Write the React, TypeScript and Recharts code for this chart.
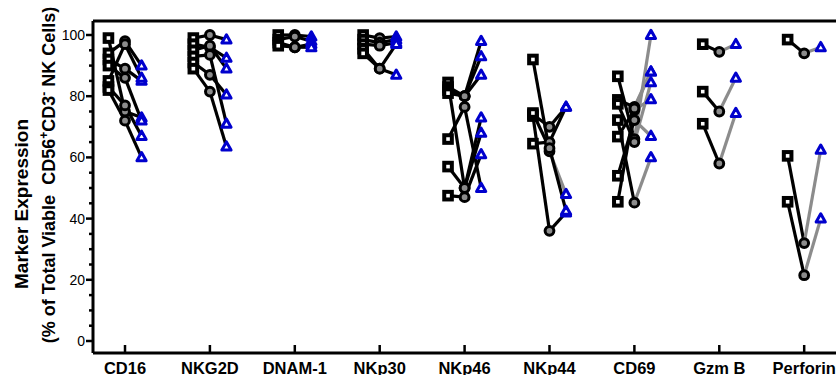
import { ComposedChart, Line, Scatter, XAxis, YAxis, ReferenceLine } from "recharts";

const markers = ["CD16", "NKG2D", "DNAM-1", "NKp30", "NKp46", "NKp44", "CD69", "Gzm B", "Perforin"];

// one row per marker, one value per donor (square -> circle -> triangle)
const squareValues = [
  [99, 94, 92, 90, 85, 83, 82],
  [99, 97, 95, 93, 91, 89],
  [100, 98.5, 97.5, 96.5],
  [100, 98.5, 97, 95.5, 94],
  [84.5, 83, 82, 81, 66, 57, 47.5],
  [92, 74, 73.5, 64.5, 74.5],
  [86.5, 78.8, 77.5, 72.2, 66.8, 54, 45.5],
  [97, 81.5, 71],
  [98.5, 60.5, 45.5],
];
const circleValues = [
  [75, 98, 89, 86, 97, 77, 72],
  [100, 96, 96.5, 93.5, 87, 81.5],
  [100, 99.5, 96, 96],
  [99, 97.5, 96.5, 89, 89],
  [50, 80, 80, 80, 76.5, 50, 47],
  [62, 70, 36, 65, 63],
  [66, 76.5, 65, 45.2, 75.5, 72.2, 76],
  [94.5, 75, 58],
  [94, 32, 21.5],
];
const triangleValues = [
  [73, 90, 85, 72, 86, 67, 60],
  [98.5, 92.5, 89, 71, 80.5, 63.5],
  [99.5, 98, 97, 96],
  [99.5, 98.5, 97.5, 97, 87],
  [73, 98, 93, 87, 50, 68, 61],
  [48, 76.5, 42, 76.5, 42.5],
  [100, 88, 84.5, 60, 79, 67, 88],
  [97, 86, 74.5],
  [96, 62.5, 40],
];
// circle -> triangle link drawn in grey
const greyLinks = [
  [false, false, false, false, false, false, false],
  [false, false, false, false, false, false],
  [false, false, false, false],
  [false, false, false, false, false],
  [false, false, false, false, false, false, false],
  [true, false, false, false, false],
  [true, true, true, true, true, true, true],
  [true, true, true],
  [true, true, true],
];
const yTicks = [0, 5, 10, 15, 20, 25, 30, 35, 40, 45, 50, 55, 60, 65, 70, 75, 80, 85, 90, 95, 100];

const OFF = 0.195;
const X_MIN = -0.377;
const X_MAX = 8.893;
const Y_MIN = -3.92;
const Y_MAX = 104.575;
const FONT = "'Liberation Sans', Arial, sans-serif";

const squares: { x: number; y: number }[] = [];
const circles: { x: number; y: number }[] = [];
const triangles: { x: number; y: number }[] = [];
const segments: { key: string; data: { x: number; y: number }[]; color: string }[] = [];

markers.forEach((m, i) => {
  squareValues[i].forEach((s, j) => {
    const c = circleValues[i][j];
    const t = triangleValues[i][j];
    squares.push({ x: i - OFF, y: s });
    circles.push({ x: i, y: c });
    triangles.push({ x: i + OFF, y: t });
    segments.push({ key: `a${i}-${j}`, data: [{ x: i - OFF, y: s }, { x: i, y: c }], color: "#000" });
    segments.push({
      key: `b${i}-${j}`,
      data: [{ x: i, y: c }, { x: i + OFF, y: t }],
      color: greyLinks[i][j] ? "#8c8c8c" : "#000",
    });
  });
});

const SquareDot = (p: any) => (
  <rect x={p.cx - 3.8} y={p.cy - 3.8} width={7.6} height={7.6} fill="#fff" stroke="#000" strokeWidth={4} />
);
const CircleDot = (p: any) => (
  <circle cx={p.cx} cy={p.cy} r={4.4} fill="#8c8c8c" stroke="#000" strokeWidth={3} />
);
const TriangleDot = (p: any) => (
  <path
    d={`M${p.cx},${p.cy - 4.8} L${p.cx + 4.6},${p.cy + 3.4} L${p.cx - 4.6},${p.cy + 3.4} Z`}
    fill="#fff"
    stroke="#0000cd"
    strokeWidth={3}
    strokeLinejoin="round"
  />
);

const XTick = (p: any) => (
  <g>
    <line x1={p.x} x2={p.x} y1={p.y} y2={p.y - 8} stroke="#000" strokeWidth={2.5} />
    <text x={p.x} y={p.y + 20.5} textAnchor="middle" fontFamily={FONT} fontWeight="bold" fontSize={16.5} fill="#000">
      {markers[p.payload.value]}
    </text>
  </g>
);

const YTick = (p: any) => {
  const v = p.payload.value;
  const major = v % 20 === 0;
  return (
    <g>
      <line x1={p.x} x2={p.x - (major ? 7 : 4)} y1={p.y} y2={p.y} stroke="#000" strokeWidth={2.5} />
      {major && (
        <text x={p.x - 8} y={p.y} dy="0.36em" textAnchor="end" fontFamily={FONT} fontSize={14} fill="#000">
          {v}
        </text>
      )}
    </g>
  );
};

const YLabel = () => (
  <g fontFamily={FONT} fontWeight="bold" fill="#000">
    <text transform="rotate(-90)" x={-204} y={28} textAnchor="middle" fontSize={19}>
      Marker Expression
    </text>
    <text transform="rotate(-90)" x={-175} y={55} textAnchor="middle" fontSize={18}>
      <tspan>(% of Total Viable{"\u00A0 "}CD56</tspan>
      <tspan dy={-7} fontSize={12}>+</tspan>
      <tspan dy={7}>CD3</tspan>
      <tspan dy={-7} fontSize={12}>-</tspan>
      <tspan dy={7}> NK Cells)</tspan>
    </text>
  </g>
);

export default function App() {
  return (
    <div style={{ position: "absolute", left: 0, top: 0, width: 836, height: 375, overflow: "hidden", background: "#fff" }}>
      <ComposedChart width={880} height={375} margin={{ top: 21, right: 0, bottom: 0, left: 0 }}>
        <XAxis
          dataKey="x"
          type="number"
          domain={[X_MIN, X_MAX]}
          ticks={[0, 1, 2, 3, 4, 5, 6, 7, 8]}
          interval={0}
          allowDataOverflow
          height={22}
          tickSize={0}
          tickMargin={0}
          tickLine={false}
          axisLine={{ stroke: "#000", strokeWidth: 3 }}
          tick={<XTick />}
        />
        <YAxis
          dataKey="y"
          type="number"
          domain={[Y_MIN, Y_MAX]}
          ticks={yTicks}
          interval={0}
          allowDataOverflow
          width={93}
          tickSize={0}
          tickMargin={0}
          tickLine={false}
          axisLine={{ stroke: "#000", strokeWidth: 3 }}
          tick={<YTick />}
          label={{ content: () => <YLabel /> }}
        />
        <ReferenceLine y={Y_MAX} stroke="#000" strokeWidth={3} />
        {segments.map((s) => (
          <Line
            key={s.key}
            data={s.data}
            dataKey="y"
            stroke={s.color}
            strokeWidth={3.2}
            dot={false}
            activeDot={false}
            isAnimationActive={false}
            legendType="none"
          />
        ))}
        <Scatter data={squares} dataKey="y" shape={<SquareDot />} isAnimationActive={false} />
        <Scatter data={circles} dataKey="y" shape={<CircleDot />} isAnimationActive={false} />
        <Scatter data={triangles} dataKey="y" shape={<TriangleDot />} isAnimationActive={false} />
      </ComposedChart>
    </div>
  );
}
